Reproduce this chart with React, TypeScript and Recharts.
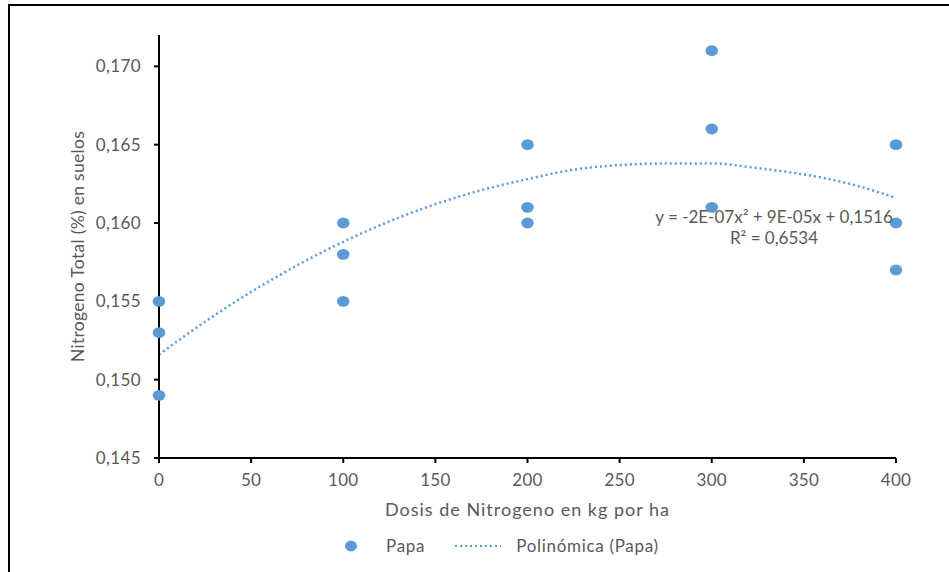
import * as React from 'react';
import {
  ComposedChart,
  Scatter,
  Line,
  XAxis,
  YAxis,
  Legend,
  Label,
} from 'recharts';

// Papa: measured soil nitrogen per dose
const doses = [0, 0, 0, 100, 100, 100, 200, 200, 200, 300, 300, 300, 400, 400, 400];
const nitrogen = [
  0.155, 0.153, 0.149,
  0.16, 0.158, 0.155,
  0.165, 0.161, 0.16,
  0.171, 0.166, 0.161,
  0.165, 0.16, 0.157,
];

// trend curve
const trendX = [0, 25, 50, 75, 100, 125, 150, 175, 200, 225, 250, 275, 300, 325, 350, 375, 400];
const trendY = [
  0.1516, 0.1537, 0.1556, 0.1573, 0.1588, 0.1601, 0.1612, 0.1621, 0.1628,
  0.1634, 0.1637, 0.1638, 0.1638, 0.1635, 0.1631, 0.1625, 0.1616,
];

const xTicks = [0, 50, 100, 150, 200, 250, 300, 350, 400];
const yTicks = [0.145, 0.15, 0.155, 0.16, 0.165, 0.17];

const BLUE = '#5B9BD5';
const GREY = '#595959';
const FONT = 'Lato, "Open Sans", sans-serif';

const points = doses.map((x, i) => ({ x, y: nitrogen[i] }));
const trend = trendX.map((x, i) => ({ x, y: trendY[i] }));

const Dot = (props: any) => (
  <ellipse cx={props.cx} cy={props.cy} rx={6.3} ry={5.4} fill={BLUE} />
);

const LegendBox = () => (
  <div
    style={{
      height: 46,
      boxSizing: 'border-box',
      display: 'flex',
      justifyContent: 'flex-start',
      alignItems: 'flex-end',
      paddingLeft: 344,
      paddingBottom: 6,
      fontFamily: FONT,
      fontSize: 17,
      letterSpacing: 0.7,
      color: GREY,
    }}
  >
    <div style={{ display: 'flex', alignItems: 'center', marginRight: 29 }}>
      <svg width={14} height={12} style={{ marginRight: 28 }}>
        <ellipse cx={7} cy={6} rx={6} ry={5.4} fill={BLUE} />
      </svg>
      Papa
    </div>
    <div style={{ display: 'flex', alignItems: 'center' }}>
      <svg width={47} height={6} style={{ marginRight: 15 }}>
        <line x1={1} y1={3} x2={47} y2={3} stroke={BLUE} strokeWidth={2} strokeDasharray="2 3" />
      </svg>
      Polinómica (Papa)
    </div>
  </div>
);

export default function App() {
  return (
    <div style={{ position: 'fixed', left: 0, top: 0, width: 949, height: 572, background: '#fff', overflow: 'hidden' }}>
      <div
        style={{
          position: 'absolute',
          left: 8,
          top: 4,
          width: 960,
          height: 600,
          borderTop: '2px solid #000',
          borderLeft: '2px solid #000',
        }}
      />
      <div style={{ position: 'absolute', left: 0, top: 0 }}>
        <ComposedChart
          width={949}
          height={572}
          margin={{ top: 35, right: 53, left: 0, bottom: 10 }}
        >
          <XAxis
            dataKey="x"
            type="number"
            domain={[0, 400]}
            ticks={xTicks}
            height={58}
            tickSize={5}
            tickMargin={11}
            stroke="#000"
            strokeWidth={2}
            tick={{ fill: GREY, fontSize: 17, fontFamily: FONT, letterSpacing: 0.3 }}
          >
            <Label
              value="Dosis de Nitrogeno en kg por ha"
              position="insideBottom"
              offset={0}
              style={{ fill: GREY, fontSize: 18, fontFamily: FONT, letterSpacing: 1 }}
            />
          </XAxis>
          <YAxis
            dataKey="y"
            type="number"
            domain={[0.145, 0.172]}
            ticks={yTicks}
            width={159}
            tickSize={5}
            tickMargin={13}
            stroke="#000"
            strokeWidth={2}
            tickFormatter={(v: number) => v.toFixed(3).replace('.', ',')}
            tick={{ fill: GREY, fontSize: 17, fontFamily: FONT, letterSpacing: 0.4 }}
          >
            <Label
              value="Nitrogeno Total (%) en suelos"
              position="center"
              angle={-90}
              dx={-2}
              style={{ fill: GREY, fontSize: 17.5, fontFamily: FONT, letterSpacing: 0.3, textAnchor: 'middle' }}
            />
          </YAxis>
          <Legend verticalAlign="bottom" content={() => <LegendBox />} />
          <Line
            data={trend}
            dataKey="y"
            type="monotone"
            stroke={BLUE}
            strokeWidth={2.5}
            strokeDasharray="2 3"
            dot={false}
            activeDot={false}
            legendType="none"
            isAnimationActive={false}
          />
          <Scatter
            data={points}
            dataKey="y"
            fill={BLUE}
            shape={Dot}
            isAnimationActive={false}
          />
        </ComposedChart>
      </div>
      <div
        style={{
          position: 'absolute',
          left: 629,
          top: 206,
          width: 290,
          textAlign: 'center',
          fontFamily: FONT,
          fontSize: 17,
          lineHeight: '21px',
          color: GREY,
        }}
      >
        <div>y = -2E-07x² + 9E-05x + 0,1516</div>
        <div>R² = 0,6534</div>
      </div>
    </div>
  );
}
